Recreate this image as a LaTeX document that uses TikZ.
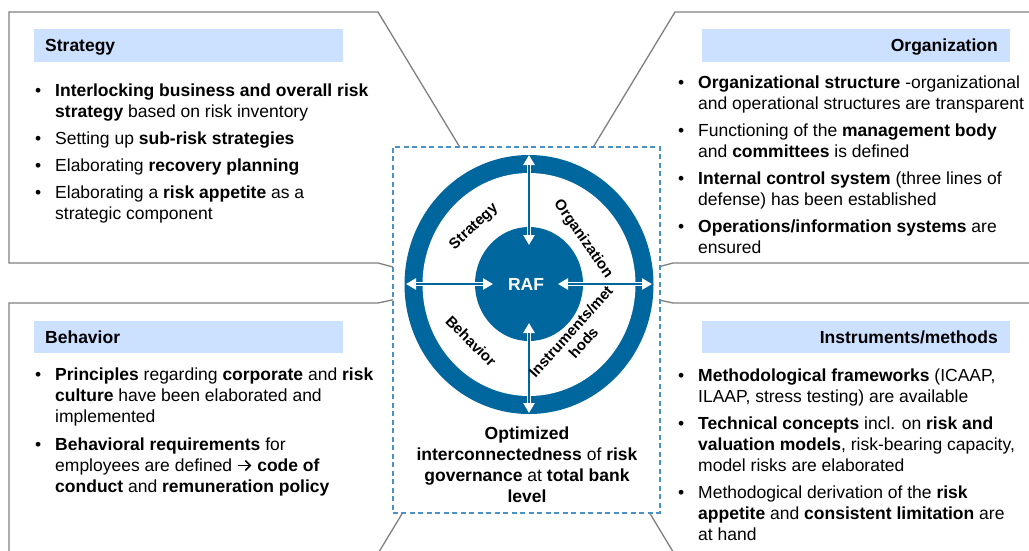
\documentclass[tikz,border=0pt]{standalone}
\usepackage{fontspec}
\setmainfont{Liberation Sans}
\usetikzlibrary{arrows.meta}
\definecolor{ringblue}{RGB}{0,102,158}
\definecolor{dashblue}{RGB}{74,146,198}
\definecolor{hdrblue}{RGB}{204,224,255}
\definecolor{callgray}{RGB}{128,128,128}
\newcommand{\bul}{\llap{\textbullet\hspace{14pt}}}
\newcommand{\rarr}{\tikz[baseline=0pt,x=1pt,y=1pt]{\path (0,0) rectangle (15,1); \draw[line width=1.6pt,-{Straight Barb[length=5pt,width=10pt,line width=1.6pt]}] (0.5,5.5) -- (14,5.5);}}
\tikzset{
 callout/.style={draw=callgray, line width=1.3pt, fill=white, line join=miter},
 hdr/.style={fill=hdrblue, draw=none, inner sep=0pt, anchor=north west},
 hdrtext/.style={font=\fontsize{17.5}{21}\selectfont\bfseries, inner sep=0pt},
 bullets/.style={font=\fontsize{17.5}{21}\selectfont, align=left, inner sep=0pt, anchor=base west},
 ringlbl/.style={font=\fontsize{15}{17}\selectfont\bfseries, inner sep=0pt, align=center},
 biarrow/.style={draw=white, line width=4.5pt, {Triangle[width=11pt,length=10pt]}-{Triangle[width=11pt,length=10pt]}},
 arrowcore/.style={draw=ringblue, line width=1.3pt, shorten <=10pt, shorten >=10pt},
}
\begin{document}
\begin{tikzpicture}[x=1pt,y=-1pt]
\useasboundingbox (0,0) rectangle (1029,550);
\clip (0,0) rectangle (1029,550);
\fill[white] (0,0) rectangle (1029,550);
% callouts
\draw[callout] (9,12) -- (378,12) -- (559,311) -- (378,263) -- (9,263) -- cycle;
\draw[callout] (1045,12) -- (675,12) -- (494,311) -- (673,263) -- (1045,263) -- cycle;
\draw[callout] (9,303) -- (378,303) -- (552,266) -- (368,570) -- (9,570) -- cycle;
\draw[callout] (1045,303) -- (673,303) -- (501,266) -- (684,570) -- (1045,570) -- cycle;
% header bars
\node[hdr, minimum width=309pt, minimum height=33pt] (sh) at (34,29) {};
\node[hdr, minimum width=308pt, minimum height=33pt] (oh) at (702,29) {};
\node[hdr, minimum width=309pt, minimum height=32pt] (bh) at (34,321) {};
\node[hdr, minimum width=308pt, minimum height=32pt] (ih) at (702,321) {};
\node[hdrtext, anchor=base west] (sht) at (45,51) {Strategy};
\node[hdrtext, anchor=base east] (oht) at (998,51) {Organization};
\node[hdrtext, anchor=base west] (bht) at (45,343) {Behavior};
\node[hdrtext, anchor=base east] (iht) at (998,343) {Instruments/methods};
% bullet texts (anchor base = baseline of last line)
\node[bullets] (sb) at (55,219) {\bul\textbf{Interlocking business and overall risk}\\
\textbf{strategy} based on risk inventory\\[6pt]
\bul Setting up \textbf{sub-risk strategies}\\[6pt]
\bul Elaborating \textbf{recovery planning}\\[6pt]
\bul Elaborating a \textbf{risk appetite} as a\\
strategic component};
\node[bullets] (ob) at (698,253) {\bul\textbf{Organizational structure} -organizational\\
and operational structures are transparent\\[6pt]
\bul Functioning of the \textbf{management body}\\
and \textbf{committees} is defined\\[6pt]
\bul\textbf{Internal control system} (three lines of\\
defense) has been established\\[6pt]
\bul\textbf{Operations/information systems} are\\
ensured};
\node[bullets] (bb) at (55,492) {\bul\textbf{Principles} regarding \textbf{corporate} and \textbf{risk}\\
\textbf{culture} have been elaborated and\\
implemented\\[7pt]
\bul\textbf{Behavioral requirements} for\\
employees are defined \rarr{} \textbf{code of}\\
\textbf{conduct} and \textbf{remuneration policy}};
\node[bullets] (ib) at (698,540) {\bul\textbf{Methodological frameworks} (ICAAP,\\
ILAAP, stress testing) are available\\[6pt]
\bul\textbf{Technical concepts} incl. on \textbf{risk and}\\
\textbf{valuation models}, risk-bearing capacity,\\
model risks are elaborated\\[6pt]
\bul Methodogical derivation of the \textbf{risk}\\
\textbf{appetite} and \textbf{consistent limitation} are\\
at hand};
% central dashed box
\node[draw=dashblue, dash pattern=on 5pt off 3.5pt, line width=1.5pt, fill=white,
 minimum width=267pt, minimum height=366pt, anchor=north west, inner sep=0pt] (box) at (392,146) {};
% ring
\fill[ringblue] (529,284.5) ellipse [x radius=124.5, y radius=129.5];
\fill[white] (529,284.5) ellipse [x radius=106.5, y radius=111.5];
\fill[ringblue] (529,284) ellipse [x radius=54, y radius=57];
\node[font=\fontsize{17.5}{21}\selectfont\bfseries, text=white, inner sep=0pt] (raf) at (526,284) {RAF};
% arrows
\coordinate (at1) at (529,155); \coordinate (at2) at (529,245);
\coordinate (al1) at (406,284); \coordinate (al2) at (493,284);
\coordinate (ar1) at (558,284); \coordinate (ar2) at (652,284);
\coordinate (ab1) at (529,323); \coordinate (ab2) at (529,413);
\foreach \a/\b in {at1/at2, al1/al2, ar1/ar2, ab1/ab2}{
  \draw[biarrow] (\a) -- (\b);
  \draw[arrowcore] (\a) -- (\b);
}
% ring labels
\node[ringlbl, rotate=43] (lst) at (474,227) {Strategy};
\node[ringlbl, rotate=-55] (lor) at (583,239) {Organization};
\node[ringlbl, rotate=-45] (lbe) at (471,341) {Behavior};
\node[ringlbl, rotate=48] (lin) at (577,337) {Instruments/met\\hods};
% bottom text
\node[font=\fontsize{17.5}{21}\selectfont, align=center, inner sep=0pt, anchor=base] (opt) at (527,502)
 {\textbf{Optimized}\\\textbf{interconnectedness} of \textbf{risk}\\\textbf{governance} at \textbf{total bank}\\\textbf{level}};
\end{tikzpicture}
\end{document}
